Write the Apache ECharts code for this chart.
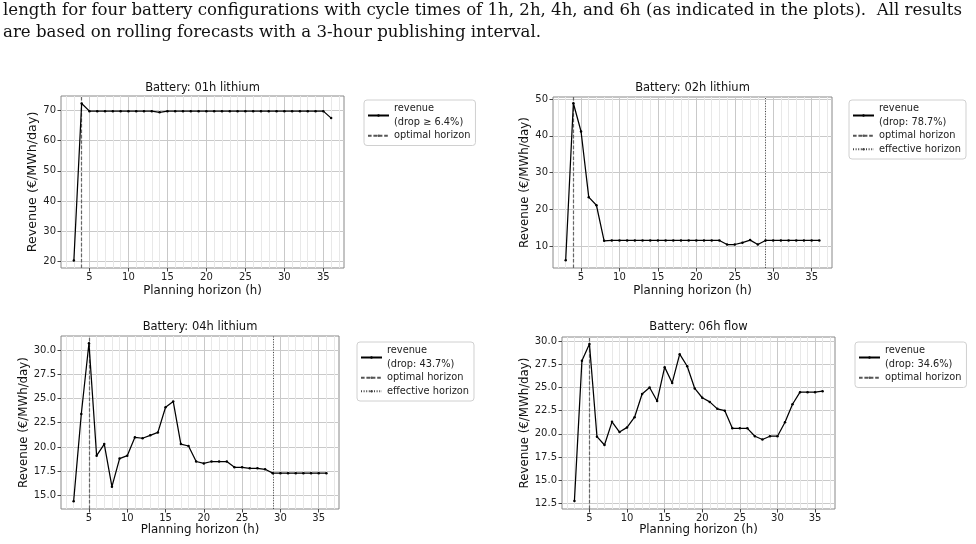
<!DOCTYPE html>
<html>
<head>
<meta charset="utf-8">
<title>Revenue vs planning horizon</title>
<script src="https://cdn.jsdelivr.net/npm/echarts@6/dist/echarts.min.js"></script>
<style>
  html, body { margin: 0; padding: 0; background: #fff; }
  #main { width: 976px; height: 544px; }
</style>
</head>
<body>
<div id="main"></div>
<script>
// planning horizon (h) of every run
const hours = [3, 4, 5, 6, 7, 8, 9, 10, 11, 12, 13, 14, 15, 16, 17, 18, 19, 20,
  21, 22, 23, 24, 25, 26, 27, 28, 29, 30, 31, 32, 33, 34, 35, 36]

// revenue (€/MWh/day)
const rev01h = [20.4, 72.2, 69.7, 69.7, 69.7, 69.7, 69.7, 69.7, 69.7, 69.7, 69.7, 69.3,
  69.7, 69.7, 69.7, 69.7, 69.7, 69.7, 69.7, 69.7, 69.7, 69.7, 69.7, 69.7, 69.7, 69.7,
  69.7, 69.7, 69.7, 69.7, 69.7, 69.7, 69.7, 67.4]
const rev02h = [6.1, 48.9, 41.2, 23.3, 21.1, 11.4, 11.5, 11.5, 11.5, 11.5, 11.5, 11.5,
  11.5, 11.5, 11.5, 11.5, 11.5, 11.5, 11.5, 11.5, 11.5, 10.4, 10.4, 10.9, 11.6, 10.4,
  11.5, 11.5, 11.5, 11.5, 11.5, 11.5, 11.5, 11.5]
const rev04h = [14.4, 23.4, 30.7, 19.1, 20.3, 15.9, 18.8, 19.1, 21.0, 20.9, 21.2, 21.5,
  24.1, 24.7, 20.3, 20.1, 18.5, 18.3, 18.5, 18.5, 18.5, 17.9, 17.9, 17.8, 17.8, 17.7,
  17.3, 17.3, 17.3, 17.3, 17.3, 17.3, 17.3, 17.3]
const rev06h = [12.75, 27.9, 29.7, 19.7, 18.8, 21.3, 20.2, 20.7, 21.8, 24.3, 25.0, 23.55,
  27.2, 25.5, 28.6, 27.3, 24.9, 23.9, 23.45, 22.7, 22.5, 20.6, 20.6, 20.6, 19.75, 19.4,
  19.75, 19.75, 21.25, 23.2, 24.5, 24.5, 24.5, 24.6]

const titles = ['Battery: 01h lithium', 'Battery: 02h lithium', 'Battery: 04h lithium', 'Battery: 06h flow']
const revenueNames = ['revenue\n(drop \u2265 6.4%)', 'revenue\n(drop: 78.7%)', 'revenue\n(drop: 43.7%)', 'revenue\n(drop: 34.6%)']
const optimalHorizon = [4, 4, 5, 5]
const effectiveHorizon = [null, 29, 29, null]

// tick labels
const xTicks = [5, 10, 15, 20, 25, 30, 35]
const xMinorTicks = [2, 3, 4, 6, 7, 8, 9, 11, 12, 13, 14, 16, 17, 18, 19, 21, 22, 23, 24,
  26, 27, 28, 29, 31, 32, 33, 34, 36, 37]
const yTicks01h = [20, 30, 40, 50, 60, 70]
const yTicks02h = [10, 20, 30, 40, 50]
const yTicks04h = [15, 17.5, 20, 22.5, 25, 27.5, 30]
const yTicks06h = [12.5, 15, 17.5, 20, 22.5, 25, 27.5, 30]

const captionLines = [
  'length for four battery configurations with cycle times of 1h, 2h, 4h, and 6h (as indicated in the plots).  All results',
  'are based on rolling forecasts with a 3-hour publishing interval.'
]

const FONT = 'DejaVu Sans'

// layout of the four panels (pixels)
const panels = [
  { values: rev01h, yTicks: yTicks01h, yMin: 17.9, yMax: 74.7, dec: 0,
    grid: [61, 96, 283, 172], legend: [364, 100], yGap: 21, yFont: 12.7, xGap: 17, titleY: 88 },
  { values: rev02h, yTicks: yTicks02h, yMin: 4.0, yMax: 50.6, dec: 0,
    grid: [553, 97, 279, 171], legend: [849, 100], yGap: 20, yFont: 11.8, xGap: 17, titleY: 88 },
  { values: rev04h, yTicks: yTicks04h, yMin: 13.6, yMax: 31.45, dec: 1,
    grid: [61, 336, 278, 173], legend: [357, 342], yGap: 31, yFont: 11.8, xGap: 15, titleY: 327 },
  { values: rev06h, yTicks: yTicks06h, yMin: 11.9, yMax: 30.45, dec: 1,
    grid: [562, 337, 273, 172], legend: [855, 342], yGap: 29, yFont: 11.8, xGap: 15, titleY: 327 }
]

const grid = []
const xAxis = []
const minorAxes = []
const yAxis = []
const series = []
const legend = []
const graphic = []

captionLines.forEach((line, i) => {
  graphic.push({
    type: 'text', left: 3, top: 2 + i * 22,
    style: { text: line, font: '16.6px "DejaVu Serif"', fill: '#111' }
  })
})

panels.forEach((p, i) => {
  const [l, t, w, h] = p.grid
  grid.push({ left: l, top: t, width: w, height: h, show: true, borderColor: '#888', borderWidth: 1 })

  xAxis.push({
    type: 'value', gridIndex: i, min: 1.35, max: 37.65,
    name: 'Planning horizon (h)', nameLocation: 'middle', nameGap: p.xGap,
    nameTextStyle: { fontFamily: FONT, fontSize: 11.8, color: '#111' },
    axisLine: { show: false },
    axisTick: { show: true, length: 3.5, customValues: xTicks, lineStyle: { color: '#444' } },
    axisLabel: { customValues: xTicks, margin: 4, fontFamily: FONT, fontSize: 10, color: '#222' },
    splitLine: { show: true, lineStyle: { color: '#c9c9c9', width: 1 } }
  })
  minorAxes.push({
    type: 'value', gridIndex: i, min: 1.35, max: 37.65, position: 'bottom',
    axisLine: { show: false },
    axisTick: { show: false, customValues: xMinorTicks },
    axisLabel: { show: false },
    splitLine: { show: true, lineStyle: { color: '#e8e8e8', width: 1 } }
  })
  yAxis.push({
    type: 'value', gridIndex: i, min: p.yMin, max: p.yMax,
    name: 'Revenue (\u20ac/MWh/day)', nameLocation: 'middle', nameGap: p.yGap,
    nameTextStyle: { fontFamily: FONT, fontSize: p.yFont, color: '#111' },
    axisLine: { show: false },
    axisTick: { show: true, length: 3.5, customValues: p.yTicks, lineStyle: { color: '#444' } },
    axisLabel: {
      customValues: p.yTicks, margin: 5, fontFamily: FONT, fontSize: 10, color: '#222',
      formatter: v => v.toFixed(p.dec)
    },
    splitLine: { show: true, lineStyle: { color: '#c9c9c9', width: 1 } }
  })

  series.push({
    name: revenueNames[i], type: 'line', xAxisIndex: i, yAxisIndex: i,
    data: hours.map((x, k) => [x, p.values[k]]),
    symbol: 'circle', symbolSize: 2.5,
    lineStyle: { color: '#000', width: 1.25 },
    itemStyle: { color: '#000' },
    z: 5
  })
  series.push({
    name: 'optimal horizon', type: 'line', xAxisIndex: i, yAxisIndex: i, data: [],
    symbol: 'none',
    lineStyle: { color: '#555', width: 1, type: [3.6, 1.8] },
    itemStyle: { color: '#555' },
    markLine: {
      silent: true, symbol: ['none', 'none'], label: { show: false },
      lineStyle: { color: '#666', width: 1.2, type: [3.6, 1.8] },
      data: [{ xAxis: optimalHorizon[i] }]
    },
    z: 4
  })
  const names = [revenueNames[i], 'optimal horizon']
  if (effectiveHorizon[i] != null) {
    series.push({
      name: 'effective horizon', type: 'line', xAxisIndex: i, yAxisIndex: i, data: [],
      symbol: 'none',
      lineStyle: { color: '#444', width: 1, type: [1, 1.6] },
      itemStyle: { color: '#444' },
      markLine: {
        silent: true, symbol: ['none', 'none'], label: { show: false },
        lineStyle: { color: '#444', width: 1, type: [1, 1.6] },
        data: [{ xAxis: effectiveHorizon[i] }]
      },
      z: 4
    })
    names.push('effective horizon')
  }

  legend.push({
    orient: 'vertical', left: p.legend[0], top: p.legend[1],
    data: names,
    itemWidth: 21, itemHeight: 3, itemGap: 0,
    padding: [2, 5, 3, 3],
    borderColor: '#d0d0d0', borderWidth: 1, borderRadius: 3,
    selectedMode: false,
    textStyle: { fontFamily: FONT, fontSize: 9.8, color: '#222', lineHeight: 13.5 }
  })

  graphic.push({
    type: 'text', x: l + w / 2, y: p.titleY,
    style: {
      text: titles[i], font: '11.5px "DejaVu Sans"', fill: '#111',
      textAlign: 'center', textVerticalAlign: 'middle'
    }
  })
})

const myChart = echarts.init(document.getElementById('main'))
myChart.setOption({
  animation: false,
  backgroundColor: '#fff',
  textStyle: { fontFamily: FONT },
  grid: grid,
  xAxis: xAxis.concat(minorAxes),
  yAxis: yAxis,
  legend: legend,
  graphic: graphic,
  series: series
})
window.addEventListener('resize', () => {
  myChart.resize()
})
</script>
</body>
</html>
